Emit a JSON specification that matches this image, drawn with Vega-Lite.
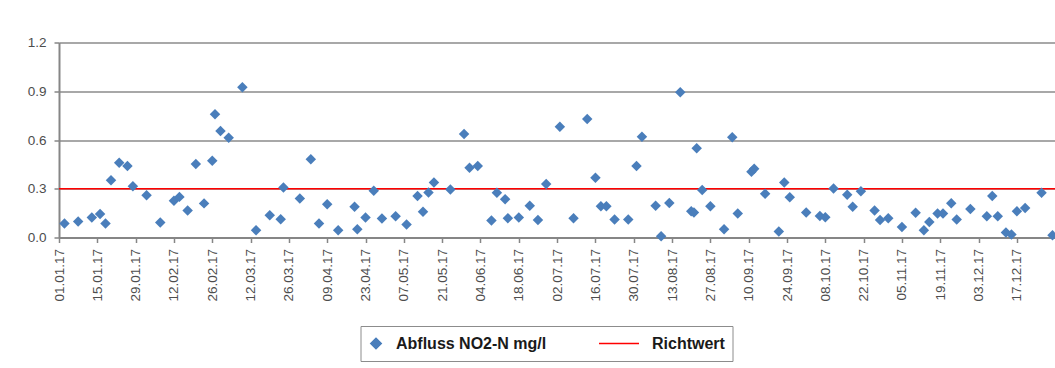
{
  "$schema": "https://vega.github.io/schema/vega-lite/v6.json",
  "width": 996,
  "height": 195,
  "autosize": {"type": "none"},
  "padding": {"left": 59, "top": 42.5, "right": 0, "bottom": 130.5},
  "background": "white",
  "config": {"font": "Liberation Sans", "view": {"stroke": null}},
  "layer": [
    {
      "data": {"values": [{"series": "Richtwert", "value": 0.3}]},
      "mark": {"type": "rule", "strokeWidth": 1.5},
      "encoding": {
        "y": {"field": "value", "type": "quantitative"},
        "color": {"field": "series", "type": "nominal"}
      }
    },
    {
      "data": {"values": [
        {"date": "2017-01-03", "value": 0.086, "series": "Abfluss NO2-N mg/l"},
        {"date": "2017-01-08", "value": 0.099, "series": "Abfluss NO2-N mg/l"},
        {"date": "2017-01-13", "value": 0.123, "series": "Abfluss NO2-N mg/l"},
        {"date": "2017-01-16", "value": 0.145, "series": "Abfluss NO2-N mg/l"},
        {"date": "2017-01-18", "value": 0.086, "series": "Abfluss NO2-N mg/l"},
        {"date": "2017-01-20", "value": 0.353, "series": "Abfluss NO2-N mg/l"},
        {"date": "2017-01-23", "value": 0.46, "series": "Abfluss NO2-N mg/l"},
        {"date": "2017-01-26", "value": 0.44, "series": "Abfluss NO2-N mg/l"},
        {"date": "2017-01-28", "value": 0.316, "series": "Abfluss NO2-N mg/l"},
        {"date": "2017-02-02", "value": 0.26, "series": "Abfluss NO2-N mg/l"},
        {"date": "2017-02-07", "value": 0.092, "series": "Abfluss NO2-N mg/l"},
        {"date": "2017-02-12", "value": 0.226, "series": "Abfluss NO2-N mg/l"},
        {"date": "2017-02-14", "value": 0.25, "series": "Abfluss NO2-N mg/l"},
        {"date": "2017-02-17", "value": 0.166, "series": "Abfluss NO2-N mg/l"},
        {"date": "2017-02-20", "value": 0.452, "series": "Abfluss NO2-N mg/l"},
        {"date": "2017-02-23", "value": 0.21, "series": "Abfluss NO2-N mg/l"},
        {"date": "2017-02-26", "value": 0.472, "series": "Abfluss NO2-N mg/l"},
        {"date": "2017-02-27", "value": 0.758, "series": "Abfluss NO2-N mg/l"},
        {"date": "2017-03-01", "value": 0.655, "series": "Abfluss NO2-N mg/l"},
        {"date": "2017-03-04", "value": 0.614, "series": "Abfluss NO2-N mg/l"},
        {"date": "2017-03-09", "value": 0.925, "series": "Abfluss NO2-N mg/l"},
        {"date": "2017-03-14", "value": 0.045, "series": "Abfluss NO2-N mg/l"},
        {"date": "2017-03-19", "value": 0.137, "series": "Abfluss NO2-N mg/l"},
        {"date": "2017-03-23", "value": 0.113, "series": "Abfluss NO2-N mg/l"},
        {"date": "2017-03-24", "value": 0.308, "series": "Abfluss NO2-N mg/l"},
        {"date": "2017-03-30", "value": 0.24, "series": "Abfluss NO2-N mg/l"},
        {"date": "2017-04-03", "value": 0.481, "series": "Abfluss NO2-N mg/l"},
        {"date": "2017-04-06", "value": 0.086, "series": "Abfluss NO2-N mg/l"},
        {"date": "2017-04-09", "value": 0.205, "series": "Abfluss NO2-N mg/l"},
        {"date": "2017-04-13", "value": 0.045, "series": "Abfluss NO2-N mg/l"},
        {"date": "2017-04-19", "value": 0.189, "series": "Abfluss NO2-N mg/l"},
        {"date": "2017-04-20", "value": 0.051, "series": "Abfluss NO2-N mg/l"},
        {"date": "2017-04-23", "value": 0.123, "series": "Abfluss NO2-N mg/l"},
        {"date": "2017-04-26", "value": 0.287, "series": "Abfluss NO2-N mg/l"},
        {"date": "2017-04-29", "value": 0.117, "series": "Abfluss NO2-N mg/l"},
        {"date": "2017-05-04", "value": 0.131, "series": "Abfluss NO2-N mg/l"},
        {"date": "2017-05-08", "value": 0.08, "series": "Abfluss NO2-N mg/l"},
        {"date": "2017-05-12", "value": 0.256, "series": "Abfluss NO2-N mg/l"},
        {"date": "2017-05-14", "value": 0.158, "series": "Abfluss NO2-N mg/l"},
        {"date": "2017-05-16", "value": 0.277, "series": "Abfluss NO2-N mg/l"},
        {"date": "2017-05-18", "value": 0.339, "series": "Abfluss NO2-N mg/l"},
        {"date": "2017-05-24", "value": 0.296, "series": "Abfluss NO2-N mg/l"},
        {"date": "2017-05-29", "value": 0.637, "series": "Abfluss NO2-N mg/l"},
        {"date": "2017-05-31", "value": 0.429, "series": "Abfluss NO2-N mg/l"},
        {"date": "2017-06-03", "value": 0.44, "series": "Abfluss NO2-N mg/l"},
        {"date": "2017-06-08", "value": 0.105, "series": "Abfluss NO2-N mg/l"},
        {"date": "2017-06-10", "value": 0.275, "series": "Abfluss NO2-N mg/l"},
        {"date": "2017-06-13", "value": 0.236, "series": "Abfluss NO2-N mg/l"},
        {"date": "2017-06-14", "value": 0.119, "series": "Abfluss NO2-N mg/l"},
        {"date": "2017-06-18", "value": 0.123, "series": "Abfluss NO2-N mg/l"},
        {"date": "2017-06-22", "value": 0.195, "series": "Abfluss NO2-N mg/l"},
        {"date": "2017-06-25", "value": 0.107, "series": "Abfluss NO2-N mg/l"},
        {"date": "2017-06-28", "value": 0.329, "series": "Abfluss NO2-N mg/l"},
        {"date": "2017-07-03", "value": 0.682, "series": "Abfluss NO2-N mg/l"},
        {"date": "2017-07-08", "value": 0.119, "series": "Abfluss NO2-N mg/l"},
        {"date": "2017-07-13", "value": 0.729, "series": "Abfluss NO2-N mg/l"},
        {"date": "2017-07-16", "value": 0.367, "series": "Abfluss NO2-N mg/l"},
        {"date": "2017-07-18", "value": 0.193, "series": "Abfluss NO2-N mg/l"},
        {"date": "2017-07-20", "value": 0.193, "series": "Abfluss NO2-N mg/l"},
        {"date": "2017-07-23", "value": 0.111, "series": "Abfluss NO2-N mg/l"},
        {"date": "2017-07-28", "value": 0.111, "series": "Abfluss NO2-N mg/l"},
        {"date": "2017-07-31", "value": 0.44, "series": "Abfluss NO2-N mg/l"},
        {"date": "2017-08-02", "value": 0.62, "series": "Abfluss NO2-N mg/l"},
        {"date": "2017-08-07", "value": 0.195, "series": "Abfluss NO2-N mg/l"},
        {"date": "2017-08-09", "value": 0.008, "series": "Abfluss NO2-N mg/l"},
        {"date": "2017-08-12", "value": 0.213, "series": "Abfluss NO2-N mg/l"},
        {"date": "2017-08-16", "value": 0.894, "series": "Abfluss NO2-N mg/l"},
        {"date": "2017-08-20", "value": 0.162, "series": "Abfluss NO2-N mg/l"},
        {"date": "2017-08-21", "value": 0.154, "series": "Abfluss NO2-N mg/l"},
        {"date": "2017-08-22", "value": 0.549, "series": "Abfluss NO2-N mg/l"},
        {"date": "2017-08-24", "value": 0.292, "series": "Abfluss NO2-N mg/l"},
        {"date": "2017-08-27", "value": 0.193, "series": "Abfluss NO2-N mg/l"},
        {"date": "2017-09-01", "value": 0.051, "series": "Abfluss NO2-N mg/l"},
        {"date": "2017-09-04", "value": 0.617, "series": "Abfluss NO2-N mg/l"},
        {"date": "2017-09-06", "value": 0.148, "series": "Abfluss NO2-N mg/l"},
        {"date": "2017-09-11", "value": 0.404, "series": "Abfluss NO2-N mg/l"},
        {"date": "2017-09-12", "value": 0.423, "series": "Abfluss NO2-N mg/l"},
        {"date": "2017-09-16", "value": 0.269, "series": "Abfluss NO2-N mg/l"},
        {"date": "2017-09-21", "value": 0.037, "series": "Abfluss NO2-N mg/l"},
        {"date": "2017-09-23", "value": 0.339, "series": "Abfluss NO2-N mg/l"},
        {"date": "2017-09-25", "value": 0.247, "series": "Abfluss NO2-N mg/l"},
        {"date": "2017-10-01", "value": 0.154, "series": "Abfluss NO2-N mg/l"},
        {"date": "2017-10-06", "value": 0.133, "series": "Abfluss NO2-N mg/l"},
        {"date": "2017-10-08", "value": 0.125, "series": "Abfluss NO2-N mg/l"},
        {"date": "2017-10-11", "value": 0.302, "series": "Abfluss NO2-N mg/l"},
        {"date": "2017-10-16", "value": 0.263, "series": "Abfluss NO2-N mg/l"},
        {"date": "2017-10-18", "value": 0.189, "series": "Abfluss NO2-N mg/l"},
        {"date": "2017-10-21", "value": 0.284, "series": "Abfluss NO2-N mg/l"},
        {"date": "2017-10-26", "value": 0.166, "series": "Abfluss NO2-N mg/l"},
        {"date": "2017-10-28", "value": 0.107, "series": "Abfluss NO2-N mg/l"},
        {"date": "2017-10-31", "value": 0.119, "series": "Abfluss NO2-N mg/l"},
        {"date": "2017-11-05", "value": 0.065, "series": "Abfluss NO2-N mg/l"},
        {"date": "2017-11-10", "value": 0.152, "series": "Abfluss NO2-N mg/l"},
        {"date": "2017-11-13", "value": 0.045, "series": "Abfluss NO2-N mg/l"},
        {"date": "2017-11-15", "value": 0.096, "series": "Abfluss NO2-N mg/l"},
        {"date": "2017-11-18", "value": 0.148, "series": "Abfluss NO2-N mg/l"},
        {"date": "2017-11-20", "value": 0.148, "series": "Abfluss NO2-N mg/l"},
        {"date": "2017-11-23", "value": 0.211, "series": "Abfluss NO2-N mg/l"},
        {"date": "2017-11-25", "value": 0.111, "series": "Abfluss NO2-N mg/l"},
        {"date": "2017-11-30", "value": 0.176, "series": "Abfluss NO2-N mg/l"},
        {"date": "2017-12-06", "value": 0.131, "series": "Abfluss NO2-N mg/l"},
        {"date": "2017-12-08", "value": 0.256, "series": "Abfluss NO2-N mg/l"},
        {"date": "2017-12-10", "value": 0.131, "series": "Abfluss NO2-N mg/l"},
        {"date": "2017-12-13", "value": 0.031, "series": "Abfluss NO2-N mg/l"},
        {"date": "2017-12-15", "value": 0.018, "series": "Abfluss NO2-N mg/l"},
        {"date": "2017-12-17", "value": 0.162, "series": "Abfluss NO2-N mg/l"},
        {"date": "2017-12-20", "value": 0.182, "series": "Abfluss NO2-N mg/l"},
        {"date": "2017-12-26", "value": 0.275, "series": "Abfluss NO2-N mg/l"},
        {"date": "2017-12-30", "value": 0.014, "series": "Abfluss NO2-N mg/l"}
      ]},
      "mark": {"type": "point", "filled": true, "opacity": 1},
      "encoding": {
        "x": {
          "field": "date", "type": "temporal",
          "scale": {"type": "utc", "domain": [{"year": 2017, "month": 1, "date": 1, "utc": true}, {"year": 2017, "month": 12, "date": 30, "hours": 22, "utc": true}]},
          "axis": {
            "values": [
              {"year": 2017, "month": 1, "date": 1, "utc": true},
              {"year": 2017, "month": 1, "date": 15, "utc": true},
              {"year": 2017, "month": 1, "date": 29, "utc": true},
              {"year": 2017, "month": 2, "date": 12, "utc": true},
              {"year": 2017, "month": 2, "date": 26, "utc": true},
              {"year": 2017, "month": 3, "date": 12, "utc": true},
              {"year": 2017, "month": 3, "date": 26, "utc": true},
              {"year": 2017, "month": 4, "date": 9, "utc": true},
              {"year": 2017, "month": 4, "date": 23, "utc": true},
              {"year": 2017, "month": 5, "date": 7, "utc": true},
              {"year": 2017, "month": 5, "date": 21, "utc": true},
              {"year": 2017, "month": 6, "date": 4, "utc": true},
              {"year": 2017, "month": 6, "date": 18, "utc": true},
              {"year": 2017, "month": 7, "date": 2, "utc": true},
              {"year": 2017, "month": 7, "date": 16, "utc": true},
              {"year": 2017, "month": 7, "date": 30, "utc": true},
              {"year": 2017, "month": 8, "date": 13, "utc": true},
              {"year": 2017, "month": 8, "date": 27, "utc": true},
              {"year": 2017, "month": 9, "date": 10, "utc": true},
              {"year": 2017, "month": 9, "date": 24, "utc": true},
              {"year": 2017, "month": 10, "date": 8, "utc": true},
              {"year": 2017, "month": 10, "date": 22, "utc": true},
              {"year": 2017, "month": 11, "date": 5, "utc": true},
              {"year": 2017, "month": 11, "date": 19, "utc": true},
              {"year": 2017, "month": 12, "date": 3, "utc": true},
              {"year": 2017, "month": 12, "date": 17, "utc": true}
            ],
            "labelExpr": "utcFormat(datum.value, '%d.%m.%y')",
            "labelAngle": -90,
            "labelFontSize": 13.5,
            "labelColor": "#4d4d4d",
            "labelPadding": 6,
            "labelOverlap": false,
            "labelFlush": false,
            "labelBound": false,
            "tickSize": 5,
            "tickColor": "#868686",
            "tickWidth": 1.5,
            "domainColor": "#868686",
            "domainWidth": 2,
            "grid": false,
            "title": null
          }
        },
        "y": {
          "field": "value", "type": "quantitative",
          "scale": {"domain": [0, 1.2], "nice": false, "zero": true},
          "axis": {
            "values": [0, 0.3, 0.6, 0.9, 1.2],
            "format": ".1f",
            "labelFontSize": 13.5,
            "labelColor": "#4d4d4d",
            "labelPadding": 8,
            "tickSize": 5,
            "tickColor": "#868686",
            "tickWidth": 1.5,
            "domainColor": "#868686",
            "domainWidth": 2,
            "gridColor": "#a8a8a8",
            "gridWidth": 2,
            "title": null
          }
        },
        "color": {
          "field": "series", "type": "nominal",
          "scale": {"domain": ["Abfluss NO2-N mg/l", "Richtwert"], "range": ["#4a7ebb", "#ff0000"]},
          "legend": {
            "title": null,
            "orient": "none",
            "legendX": 301.5,
            "legendY": 283.5,
            "direction": "horizontal",
            "strokeColor": "#8c8c8c",
            "fillColor": "white",
            "padding": 7.5,
            "labelFontSize": 16,
            "labelFontWeight": "bold",
            "labelColor": "#1a1a1a",
            "clipHeight": 20,
            "columnPadding": 51,
            "symbolStrokeWidth": 1.5,
            "symbolOpacity": 1,
            "labelOffset": 12
          }
        },
        "shape": {
          "field": "series", "type": "nominal",
          "scale": {"domain": ["Abfluss NO2-N mg/l", "Richtwert"], "range": ["diamond", "stroke"]},
          "legend": {
            "title": null,
            "orient": "none",
            "legendX": 301.5,
            "legendY": 283.5,
            "direction": "horizontal",
            "strokeColor": "#8c8c8c",
            "fillColor": "white",
            "padding": 7.5,
            "labelFontSize": 16,
            "labelFontWeight": "bold",
            "labelColor": "#1a1a1a",
            "clipHeight": 20,
            "columnPadding": 51,
            "symbolStrokeWidth": 1.5,
            "symbolOpacity": 1,
            "labelOffset": 12
          }
        },
        "size": {
          "field": "series", "type": "nominal",
          "scale": {"type": "ordinal", "domain": ["Abfluss NO2-N mg/l", "Richtwert"], "range": [110, 1600]},
          "legend": {
            "title": null,
            "orient": "none",
            "legendX": 301.5,
            "legendY": 283.5,
            "direction": "horizontal",
            "strokeColor": "#8c8c8c",
            "fillColor": "white",
            "padding": 7.5,
            "labelFontSize": 16,
            "labelFontWeight": "bold",
            "labelColor": "#1a1a1a",
            "clipHeight": 20,
            "columnPadding": 51,
            "symbolStrokeWidth": 1.5,
            "symbolOpacity": 1,
            "labelOffset": 12
          }
        }
      }
    }
  ]
}
